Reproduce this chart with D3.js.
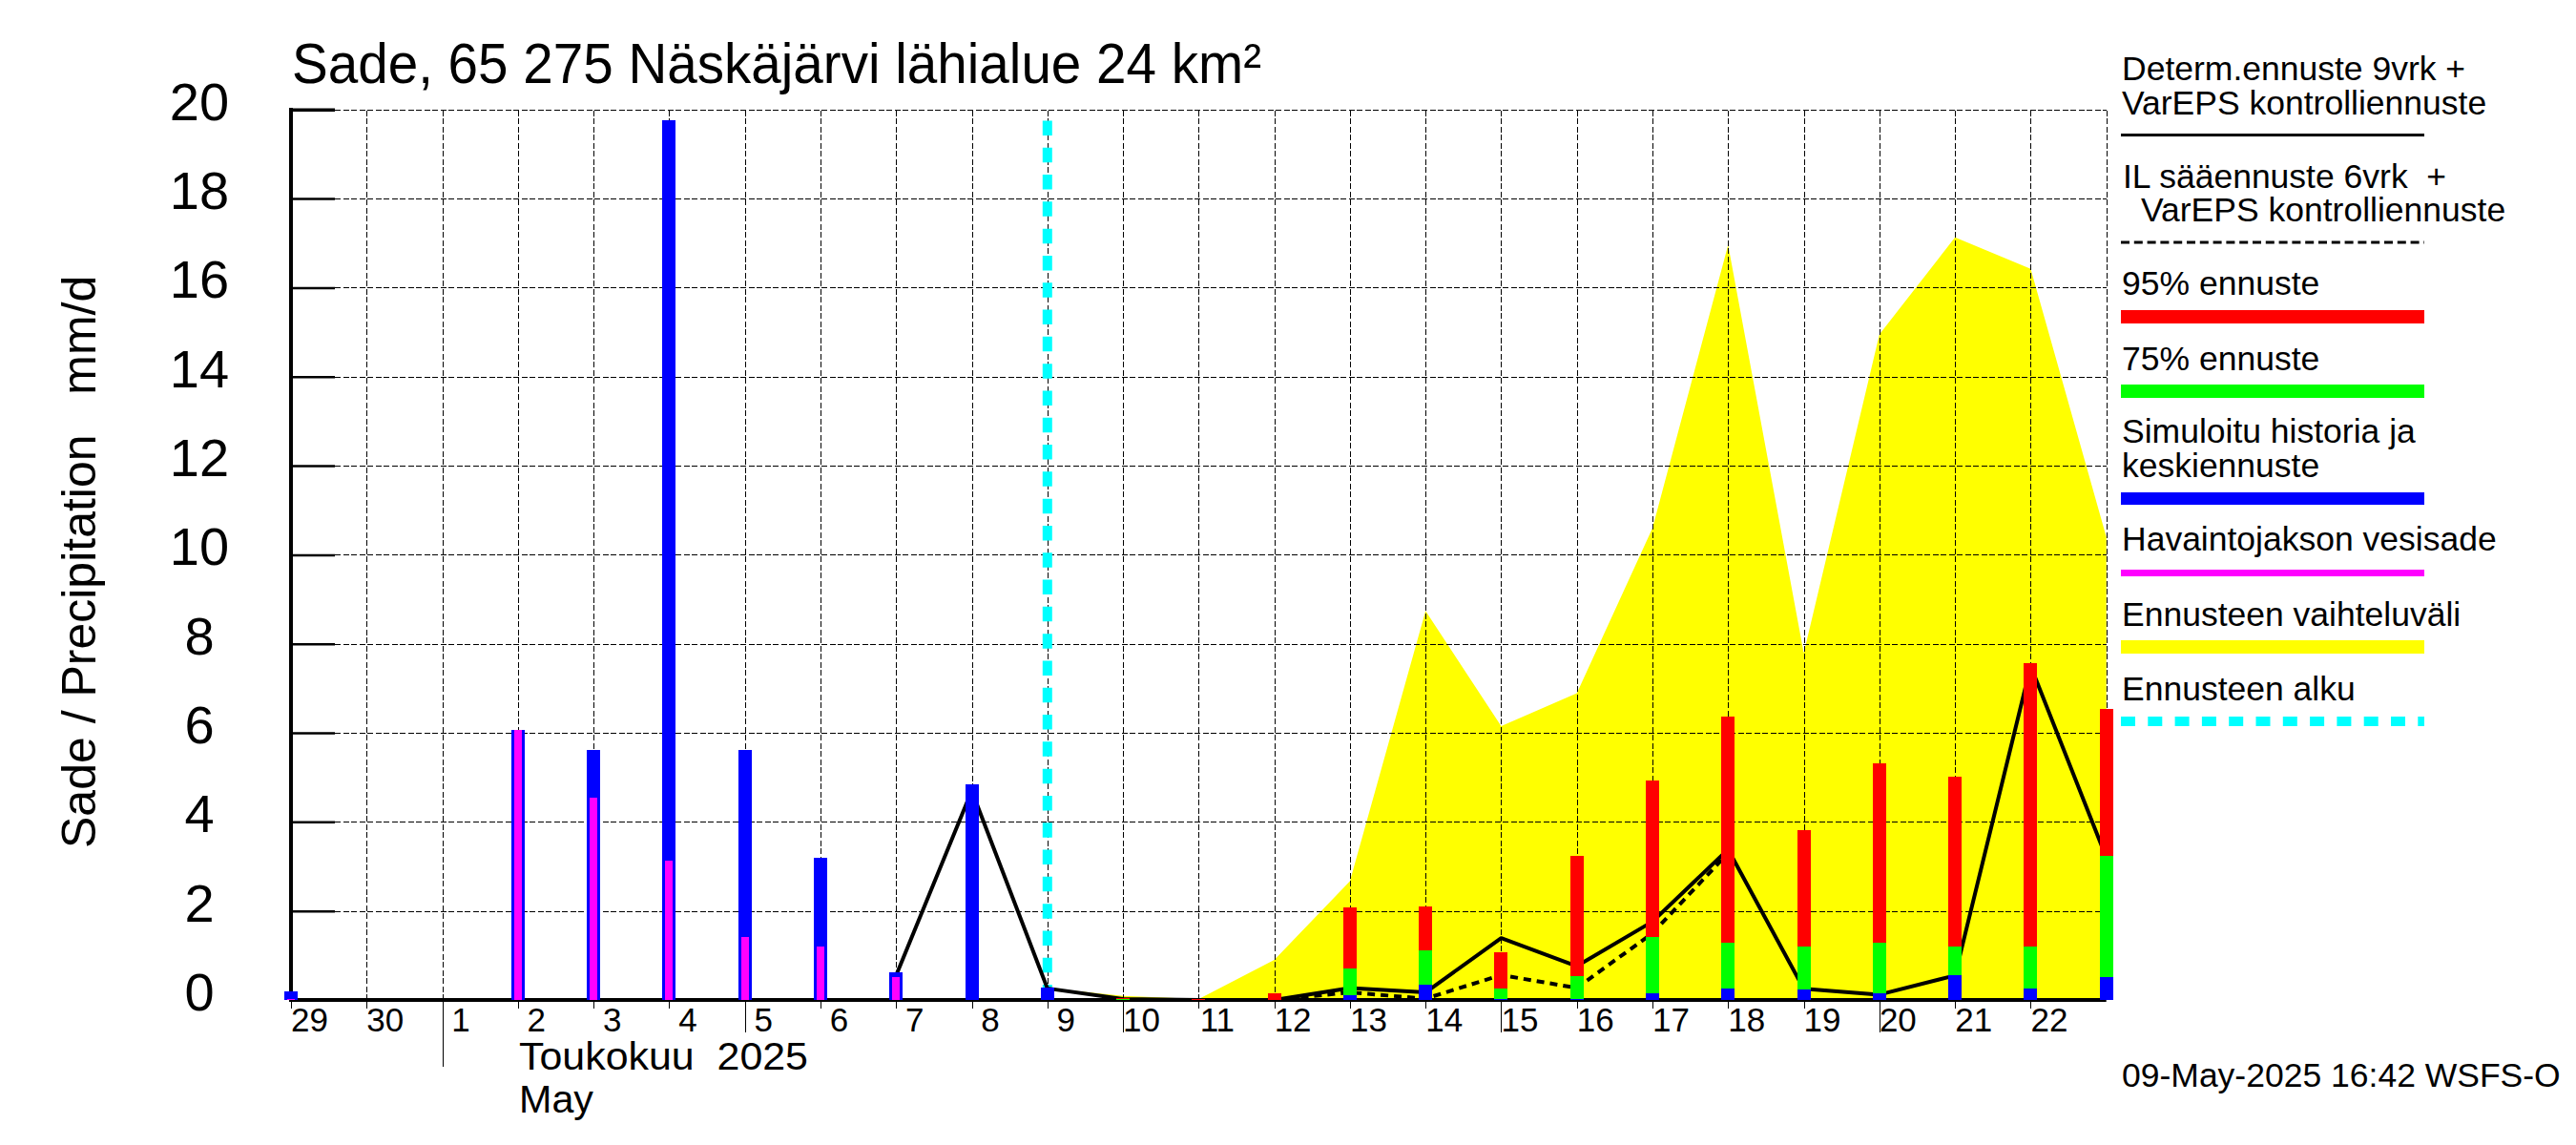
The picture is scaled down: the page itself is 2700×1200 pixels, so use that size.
<!DOCTYPE html>
<html>
<head>
<meta charset="utf-8">
<script src="https://cdn.jsdelivr.net/npm/d3@7"></script>
<style>
  html, body { margin: 0; background: white; }
  text { font-family: "Liberation Sans", Arial, sans-serif; fill: black; }
</style>
</head>
<body>
<div id="chart"></div>
<script>
// x is the day index, 0 = 29 April ... 24 = end of 22 May
const dayLabels = ["29","30","1","2","3","4","5","6","7","8","9","10","11","12","13","14","15","16","17","18","19","20","21","22",""];
const yTicks = [0,2,4,6,8,10,12,14,16,18,20];

const meanRain = [0.19,0,0,6.06,5.61,19.76,5.61,3.19,0.62,4.84,0.28,0,0,0,0.10,0.34,0.03,0.03,0.16,0.25,0.23,0.15,0.55,0.25,0.51];
const observedRain = [0.03,0,0,6.06,4.54,3.13,1.41,1.20,0.52];
const p75 = [0,0,0,0,0,0,0,0,0,0,0,0.03,0,0,0.70,1.11,0.25,0.53,1.41,1.28,1.20,1.28,1.20,1.20,3.24];
const p95 = [0,0,0,0,0,0,0,0,0,0,0,0.05,0.02,0.16,2.08,2.09,1.07,3.23,4.92,6.36,3.81,5.31,5.01,7.56,6.53];

const rangeStart = 10;
const rangeTop = [0.27,0.09,0.02,0.90,2.67,8.74,6.15,6.89,10.60,16.96,7.79,14.95,17.13,16.42,10.40];
const rangeBottom = [0.26,0.02,0,0,0,0,0,0,0,0,0,0,0,0,0];

const determStart = 8;
const determ = [0.55,4.70,0.26,0.02,0,0,0.27,0.17,1.39,0.76,1.76,3.38,0.25,0.12,0.55,7.50,3.20];

const ilStart = 13;
const ilForecast = [0,0.17,0.03,0.56,0.27,1.50,3.30];

const forecastStart = 10;

const width = 2700, height = 1200;
const margin = {top: 114.8, left: 305, right: 492.3, bottom: 152};

const x = d3.scaleLinear().domain([0, 24]).range([margin.left, width - margin.right]);
const y = d3.scaleLinear().domain([0, 20]).range([height - margin.bottom, margin.top]);

const svg = d3.select("#chart").append("svg")
    .attr("width", width)
    .attr("height", height)
    .style("display", "block");

// yellow range
const area = d3.area()
    .x((d, i) => x(i + rangeStart))
    .y0((d, i) => y(rangeBottom[i]))
    .y1(d => y(d));

svg.append("path")
    .attr("fill", "#ffff00")
    .attr("d", area(rangeTop));

// grid
const gridV = svg.append("g")
    .attr("transform", "translate(0," + y(0) + ")")
    .call(d3.axisBottom(x).tickValues(d3.range(1, 25)).tickSize(y(20) - y(0)).tickFormat(""));
gridV.select(".domain").remove();
gridV.selectAll("text").remove();
gridV.selectAll("line").attr("stroke", "black").attr("stroke-width", 1).attr("stroke-dasharray", "6 2.5").attr("shape-rendering", "crispEdges");

const gridH = svg.append("g")
    .attr("transform", "translate(" + (margin.left + 46) + ",0)")
    .call(d3.axisRight(y).tickValues(yTicks.slice(1)).tickSize(x(24) - margin.left - 46).tickFormat(""));
gridH.select(".domain").remove();
gridH.selectAll("text").remove();
gridH.selectAll("line").attr("stroke", "black").attr("stroke-width", 1).attr("stroke-dasharray", "6 2.5").attr("shape-rendering", "crispEdges");

// forecast start
svg.append("line")
    .attr("x1", x(forecastStart)).attr("x2", x(forecastStart))
    .attr("y1", y(19.75)).attr("y2", y(0))
    .attr("stroke", "#00ffff")
    .attr("stroke-width", 10)
    .attr("stroke-dasharray", "15.5 12.8");

// lines
const line = start => d3.line().x((d, i) => x(i + start)).y(d => y(d));

svg.append("path")
    .attr("fill", "none").attr("stroke", "black").attr("stroke-width", 4)
    .attr("stroke-linejoin", "round")
    .attr("d", line(determStart)(determ));

svg.append("path")
    .attr("fill", "none").attr("stroke", "black").attr("stroke-width", 4)
    .attr("stroke-dasharray", "8 6")
    .attr("d", line(ilStart)(ilForecast));

// axes
const xAxis = svg.append("g")
    .attr("transform", "translate(0," + y(0) + ")")
    .call(d3.axisBottom(x).tickValues(d3.range(0, 24)).tickSize(8.5).tickFormat(""));
xAxis.select(".domain").remove();
xAxis.selectAll("text").remove();
xAxis.selectAll("line")
    .attr("stroke", "black")
    .attr("stroke-width", 1)
    .attr("shape-rendering", "crispEdges")
    .attr("y2", d => dayLabels[d] === "1" ? 70 : (+dayLabels[d] % 5 === 0 && +dayLabels[d] < 29 ? 34 : 8.5));
xAxis.selectAll("text.day")
    .data(dayLabels)
    .enter()
    .append("text")
    .attr("class", "day")
    .attr("x", (d, i) => x(i) + 19.5)
    .attr("y", 33)
    .attr("text-anchor", "middle")
    .style("font-size", "35px")
    .text(d => d);

svg.append("line")
    .attr("x1", x(0)).attr("x2", x(24))
    .attr("y1", y(0)).attr("y2", y(0))
    .attr("stroke", "black").attr("stroke-width", 4);

const yAxis = svg.append("g")
    .attr("transform", "translate(" + margin.left + ",0)")
    .call(d3.axisRight(y).tickValues(yTicks).tickSize(46).tickFormat(""));
yAxis.select(".domain").remove();
yAxis.selectAll("text").remove();
yAxis.selectAll("line")
    .attr("stroke", "black")
    .attr("stroke-width", d => d === 20 ? 3.6 : 2.5);
yAxis.selectAll("text.val")
    .data(yTicks)
    .enter()
    .append("text")
    .attr("class", "val")
    .attr("x", -96)
    .attr("y", d => y(d) + 11)
    .attr("text-anchor", "middle")
    .style("font-size", "56px")
    .text(d => d);

svg.append("line")
    .attr("x1", x(0)).attr("x2", x(0))
    .attr("y1", y(20) - 1.8).attr("y2", y(0) + 2)
    .attr("stroke", "black").attr("stroke-width", 4);

// bars, each one is stacked from the largest down
function bars(values, color, w) {
    svg.append("g").selectAll("rect")
        .data(values)
        .enter()
        .append("rect")
        .attr("x", (d, i) => x(i) - w / 2)
        .attr("y", d => y(d))
        .attr("width", w)
        .attr("height", d => y(0) - y(d))
        .attr("fill", color)
        .attr("shape-rendering", "crispEdges");
}
bars(p95, "#ff0000", 14);
bars(p75, "#00ff00", 14);
bars(meanRain, "#0000ff", 14);
bars(observedRain, "#ff00ff", 8);

function label(txt, px, py, size, len) {
    const t = svg.append("text")
        .attr("x", px).attr("y", py)
        .style("font-size", size + "px")
        .style("white-space", "pre")
        .text(txt);
    if (len) t.attr("textLength", len).attr("lengthAdjust", "spacingAndGlyphs");
    return t;
}

label("Sade, 65 275 Näskäjärvi lähialue 24 km²", 306, 87, 60, 1016);
label("Toukokuu  2025", 544, 1120.5, 41, 303);
label("May", 544, 1165.5, 41, 78);

svg.append("text")
    .attr("transform", "translate(100,889) rotate(-90)")
    .style("font-size", "50px")
    .style("white-space", "pre")
    .text("Sade / Precipitation   mm/d");

// legend
const legendX0 = 2223, legendX1 = 2541;

[["Determ.ennuste 9vrk +", 2224, 84],
 ["VarEPS kontrolliennuste", 2224, 119.5],
 ["IL sääennuste 6vrk  +", 2225, 196.5],
 ["VarEPS kontrolliennuste", 2244, 232],
 ["95% ennuste", 2224, 309],
 ["75% ennuste", 2224, 388],
 ["Simuloitu historia ja", 2224, 464],
 ["keskiennuste", 2224, 499.5],
 ["Havaintojakson vesisade", 2224, 577],
 ["Ennusteen vaihteluväli", 2224, 655.5],
 ["Ennusteen alku", 2224, 733.5],
 ["09-May-2025 16:42 WSFS-O", 2224, 1139]
].forEach(d => label(d[0], d[1], d[2], 35.5));

[[141.5, "black", 3, null],
 [254, "black", 3, "9 4.8"],
 [332, "#ff0000", 14, null],
 [410, "#00ff00", 14, null],
 [522.5, "#0000ff", 13, null],
 [600.5, "#ff00ff", 7, null],
 [678, "#ffff00", 14, null],
 [756, "#00ffff", 10, "15 13.3"]
].forEach(d => {
    svg.append("line")
        .attr("x1", legendX0).attr("x2", legendX1)
        .attr("y1", d[0]).attr("y2", d[0])
        .attr("stroke", d[1])
        .attr("stroke-width", d[2])
        .attr("stroke-dasharray", d[3]);
});
</script>
</body>
</html>
